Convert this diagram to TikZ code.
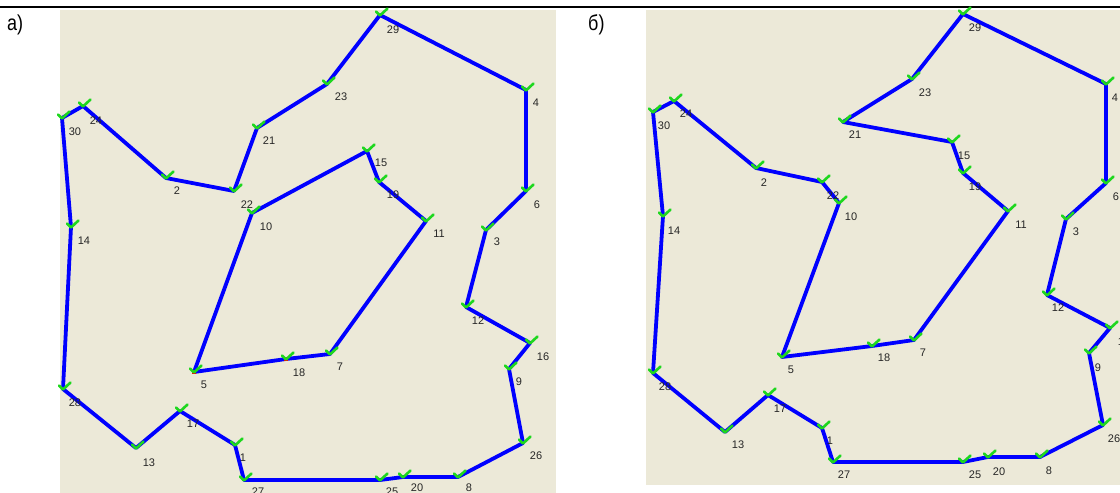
\documentclass[tikz,border=0pt]{standalone}
\usepackage{fontspec}
\setmainfont{Liberation Sans}
\definecolor{panel}{RGB}{236,233,216}
\definecolor{routeblue}{RGB}{0,0,255}
\definecolor{tickgreen}{RGB}{30,215,30}
\tikzset{
  routeline/.style={draw=routeblue, line width=3.8pt, line join=round, line cap=round},
  lbl/.style={font=\fontsize{11}{12}\selectfont, text=black!85, inner sep=0pt},
  panellbl/.style={font=\fontsize{18}{20}\selectfont, inner sep=0pt, anchor=west},
  tickmark/.pic={\draw[tickgreen, line width=2.6pt, line cap=round, line join=round] (-4,-3.5) -- (0,0.5) -- (7.5,-6.5);}
}
\begin{document}
\begin{tikzpicture}[x=1pt,y=-1pt]
\useasboundingbox (0,0) rectangle (1120,493);
\clip (0,0) rectangle (1120,493);
% panels
\fill[panel] (60,10) rectangle (556,493);
\fill[panel] (646,10) rectangle (1120,485);
\draw[line width=2pt] (0,7) -- (1120,7);
\node[panellbl] (ta) at (7,25) {\scalebox{1}[1.2]{а)}};
\node[panellbl] (tb) at (588,25) {\scalebox{1}[1.2]{б)}};
% panel a points
\foreach \n/\x/\y in {29/380/15, 4/526/90, 6/526/191, 3/486/230, 12/466/307, 16/530/343,
  9/509/369, 26/523/443, 8/458/477, 20/403/477, 25/380/480, 27/244/480, 1/235/445,
  17/180/411, 13/136/448, 28/63/389, 14/71/227, 30/62/118, 24/83/106, 2/166/178,
  22/234/191, 21/257/128, 23/327/84, 10/252/213, 15/367/151, 19/379/182, 11/426/221,
  7/330/354, 18/286/359, 5/194/372}
  {\coordinate (a\n) at (\x,\y);}
% panel b points
\foreach \n/\x/\y in {29/963/14, 4/1106/84, 6/1106/183, 3/1066/219, 12/1047/295, 16/1110/328,
  9/1089/353, 26/1103/425, 8/1040/457, 20/988/457, 25/963/462, 27/833/462, 1/822/428,
  17/768/395, 13/725/432, 28/653/373, 14/663/216, 30/653/112, 24/674/101, 2/756/168,
  22/822/182, 10/839/203, 5/782/357, 18/872/346, 7/914/340, 11/1008/211, 19/963/173,
  15/952/142, 21/843/122, 23/912/79}
  {\coordinate (b\n) at (\x,\y);}
% routes panel a
\draw[routeline] (a29) -- (a4) -- (a6) -- (a3) -- (a12) -- (a16) -- (a9) -- (a26) -- (a8)
  -- (a20) -- (a25) -- (a27) -- (a1) -- (a17) -- (a13) -- (a28) -- (a14) -- (a30) -- (a24)
  -- (a2) -- (a22) -- (a21) -- (a23) -- cycle;
\draw[routeline] (a10) -- (a15) -- (a19) -- (a11) -- (a7) -- (a18) -- (a5) -- cycle;
% route panel b
\draw[routeline] (b29) -- (b4) -- (b6) -- (b3) -- (b12) -- (b16) -- (b9) -- (b26) -- (b8)
  -- (b20) -- (b25) -- (b27) -- (b1) -- (b17) -- (b13) -- (b28) -- (b14) -- (b30) -- (b24)
  -- (b2) -- (b22) -- (b10) -- (b5) -- (b18) -- (b7) -- (b11) -- (b19) -- (b15) -- (b21)
  -- (b23) -- cycle;
% red marks
\fill[red] (a5) +(-2,-2) rectangle +(2,2);
\fill[red] (a18) +(-2,-2) rectangle +(2,2);
% ticks
\foreach \n in {29,4,6,3,12,16,9,26,8,20,25,27,1,17,13,28,14,30,24,2,22,21,23,10,15,19,11,7,18,5}
  {\pic at (a\n) {tickmark}; \pic at (b\n) {tickmark};}
% labels panel a
\foreach \n/\x/\y in {29/393/30, 4/536/103, 6/537/205, 3/497/242, 12/478/321, 16/543/357,
  9/519/382, 26/536/456, 8/469/488, 20/417/488, 25/392/492, 27/258/492, 1/243/458,
  17/193/424, 13/149/463, 28/75/403, 14/84/241, 30/75/132, 24/96/121, 2/177/191,
  22/247/205, 21/269/141, 23/341/97, 10/266/227, 15/381/163, 19/393/195, 11/439/234,
  7/340/367, 18/299/373, 5/204/385}
  {\node[lbl] (la\n) at (\x,\y) {\n};}
% labels panel b
\foreach \n/\x/\y in {29/975/28, 4/1115/98, 6/1116/197, 3/1076/232, 12/1058/308, 16/1124/342,
  9/1098/368, 26/1114/439, 8/1049/471, 20/999/472, 25/975/475, 27/844/475, 1/830/441,
  17/780/409, 13/738/445, 28/665/387, 14/674/231, 30/664/126, 24/686/114, 2/764/183,
  22/833/196, 10/851/217, 5/791/370, 18/884/358, 7/923/353, 11/1021/225, 19/975/187,
  15/964/156, 21/855/135, 23/925/93}
  {\node[lbl] (lb\n) at (\x,\y) {\n};}
\end{tikzpicture}
\end{document}
